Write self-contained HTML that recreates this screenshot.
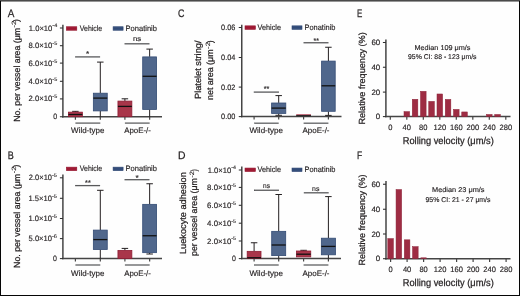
<!DOCTYPE html>
<html><head><meta charset="utf-8"><style>
html,body{margin:0;padding:0;background:#fff;}
svg{display:block;will-change:transform;}
text{font-family:"Liberation Sans", sans-serif;stroke:#231f20;text-rendering:geometricPrecision;}
</style></head><body>
<svg width="520" height="296" viewBox="0 0 520 296">
<rect x="0" y="0" width="520" height="296" fill="#fefefe"/>
<text x="7.75" y="16.90" font-size="10.9" text-anchor="start" fill="#231f20" textLength="6.60" lengthAdjust="spacingAndGlyphs" stroke-width="0.25">A</text>
<text x="7.80" y="159.10" font-size="10.9" text-anchor="start" fill="#231f20" textLength="6.00" lengthAdjust="spacingAndGlyphs" stroke-width="0.25">B</text>
<text x="178.05" y="17.20" font-size="10.9" text-anchor="start" fill="#231f20" textLength="6.40" lengthAdjust="spacingAndGlyphs" stroke-width="0.25">C</text>
<text x="178.05" y="159.10" font-size="10.9" text-anchor="start" fill="#231f20" textLength="7.50" lengthAdjust="spacingAndGlyphs" stroke-width="0.25">D</text>
<text x="356.90" y="17.40" font-size="10.9" text-anchor="start" fill="#231f20" textLength="5.30" lengthAdjust="spacingAndGlyphs" stroke-width="0.25">E</text>
<text x="356.90" y="159.10" font-size="10.9" text-anchor="start" fill="#231f20" textLength="5.20" lengthAdjust="spacingAndGlyphs" stroke-width="0.25">F</text>
<line x1="62.9" y1="24.8" x2="62.9" y2="117.45" stroke="#454545" stroke-width="1.5"/>
<line x1="62.15" y1="116.75" x2="162.0" y2="116.75" stroke="#454545" stroke-width="1.5"/>
<line x1="59.9" y1="28.0" x2="62.9" y2="28.0" stroke="#2e2e2e" stroke-width="1.05"/>
<line x1="59.9" y1="45.7" x2="62.9" y2="45.7" stroke="#2e2e2e" stroke-width="1.05"/>
<line x1="59.9" y1="63.1" x2="62.9" y2="63.1" stroke="#2e2e2e" stroke-width="1.05"/>
<line x1="59.9" y1="81.3" x2="62.9" y2="81.3" stroke="#2e2e2e" stroke-width="1.05"/>
<line x1="59.9" y1="98.9" x2="62.9" y2="98.9" stroke="#2e2e2e" stroke-width="1.05"/>
<line x1="59.9" y1="116.75" x2="62.9" y2="116.75" stroke="#2e2e2e" stroke-width="1.05"/>
<line x1="75.4" y1="116.75" x2="75.4" y2="119.75" stroke="#454545" stroke-width="1.2"/>
<line x1="100.3" y1="116.75" x2="100.3" y2="119.75" stroke="#454545" stroke-width="1.2"/>
<line x1="124.9" y1="116.75" x2="124.9" y2="119.75" stroke="#454545" stroke-width="1.2"/>
<line x1="149.65" y1="116.75" x2="149.65" y2="119.75" stroke="#454545" stroke-width="1.2"/>
<text x="28.85" y="30.50" font-size="7.8" text-anchor="start" fill="#231f20" textLength="23.45" lengthAdjust="spacingAndGlyphs" stroke-width="0.15">1.0×10</text>
<text x="52.30" y="27.40" font-size="5.2" text-anchor="start" fill="#231f20" textLength="4.90" lengthAdjust="spacingAndGlyphs" stroke-width="0.1">-4</text>
<text x="28.50" y="48.20" font-size="7.8" text-anchor="start" fill="#231f20" textLength="23.80" lengthAdjust="spacingAndGlyphs" stroke-width="0.15">8.0×10</text>
<text x="52.30" y="45.10" font-size="5.2" text-anchor="start" fill="#231f20" textLength="4.90" lengthAdjust="spacingAndGlyphs" stroke-width="0.1">-5</text>
<text x="28.50" y="65.60" font-size="7.8" text-anchor="start" fill="#231f20" textLength="23.80" lengthAdjust="spacingAndGlyphs" stroke-width="0.15">6.0×10</text>
<text x="52.30" y="62.50" font-size="5.2" text-anchor="start" fill="#231f20" textLength="4.90" lengthAdjust="spacingAndGlyphs" stroke-width="0.1">-5</text>
<text x="28.50" y="83.80" font-size="7.8" text-anchor="start" fill="#231f20" textLength="23.80" lengthAdjust="spacingAndGlyphs" stroke-width="0.15">4.0×10</text>
<text x="52.30" y="80.70" font-size="5.2" text-anchor="start" fill="#231f20" textLength="4.90" lengthAdjust="spacingAndGlyphs" stroke-width="0.1">-5</text>
<text x="28.50" y="101.40" font-size="7.8" text-anchor="start" fill="#231f20" textLength="23.80" lengthAdjust="spacingAndGlyphs" stroke-width="0.15">2.0×10</text>
<text x="52.30" y="98.30" font-size="5.2" text-anchor="start" fill="#231f20" textLength="4.90" lengthAdjust="spacingAndGlyphs" stroke-width="0.1">-5</text>
<text x="53.30" y="119.25" font-size="7.8" text-anchor="start" fill="#231f20" textLength="3.90" lengthAdjust="spacingAndGlyphs" stroke-width="0.15">0</text>
<rect x="66.40" y="26.75" width="10.40" height="3.50" fill="#a31d37" stroke="#94142e" stroke-width="0.6"/>
<line x1="66.7" y1="28.5" x2="76.50000000000001" y2="28.5" stroke="#94142e" stroke-width="0.5"/>
<rect x="113.10" y="26.75" width="10.00" height="3.50" fill="#38527f" stroke="#2c4470" stroke-width="0.6"/>
<line x1="113.39999999999999" y1="28.5" x2="122.8" y2="28.5" stroke="#2c4470" stroke-width="0.5"/>
<text x="79.75" y="30.80" font-size="7.85" text-anchor="start" fill="#231f20" textLength="22.50" lengthAdjust="spacingAndGlyphs" stroke-width="0.15">Vehicle</text>
<text x="125.60" y="30.80" font-size="7.85" text-anchor="start" fill="#231f20" textLength="31.40" lengthAdjust="spacingAndGlyphs" stroke-width="0.15">Ponatinib</text>
<line x1="75.4" y1="111.35" x2="75.4" y2="112.05" stroke="#231f20" stroke-width="1.0"/>
<line x1="72.15" y1="111.35" x2="78.65" y2="111.35" stroke="#231f20" stroke-width="1.0"/>
<rect x="68.45" y="112.15" width="13.90" height="4.50" fill="#a9364a" stroke="#8e1c33" stroke-width="0.8"/>
<line x1="68.45" y1="114.5" x2="82.35000000000001" y2="114.5" stroke="#111" stroke-width="1.3"/>
<line x1="100.3" y1="62.1" x2="100.3" y2="93.1" stroke="#231f20" stroke-width="1.0"/>
<line x1="97.05" y1="62.1" x2="103.55" y2="62.1" stroke="#231f20" stroke-width="1.0"/>
<line x1="100.3" y1="111.0" x2="100.3" y2="116.75" stroke="#231f20" stroke-width="1.0"/>
<rect x="93.35" y="93.20" width="13.90" height="17.70" fill="#50678c" stroke="#334b74" stroke-width="0.8"/>
<line x1="93.35" y1="98.1" x2="107.25" y2="98.1" stroke="#111" stroke-width="1.3"/>
<line x1="124.9" y1="98.8" x2="124.9" y2="101.0" stroke="#231f20" stroke-width="1.0"/>
<line x1="121.65" y1="98.8" x2="128.15" y2="98.8" stroke="#231f20" stroke-width="1.0"/>
<rect x="117.95" y="101.10" width="13.90" height="15.55" fill="#a9364a" stroke="#8e1c33" stroke-width="0.8"/>
<line x1="117.95" y1="106.4" x2="131.85" y2="106.4" stroke="#111" stroke-width="1.3"/>
<line x1="149.65" y1="49.1" x2="149.65" y2="56.8" stroke="#231f20" stroke-width="1.0"/>
<line x1="146.4" y1="49.1" x2="152.9" y2="49.1" stroke="#231f20" stroke-width="1.0"/>
<line x1="149.65" y1="109.5" x2="149.65" y2="116.75" stroke="#231f20" stroke-width="1.0"/>
<rect x="142.70" y="56.90" width="13.90" height="52.50" fill="#50678c" stroke="#334b74" stroke-width="0.8"/>
<line x1="142.70000000000002" y1="76.3" x2="156.6" y2="76.3" stroke="#111" stroke-width="1.3"/>
<line x1="75.1" y1="56.9" x2="100.1" y2="56.9" stroke="#58595b" stroke-width="1.3"/>
<text x="86.00" y="55.85" font-size="7.0" text-anchor="start" fill="#231f20" textLength="3.20" lengthAdjust="spacingAndGlyphs" stroke-width="0.15">*</text>
<line x1="124.5" y1="43.8" x2="149.5" y2="43.8" stroke="#58595b" stroke-width="1.3"/>
<text x="133.00" y="41.20" font-size="7.0" text-anchor="start" fill="#231f20" textLength="8.20" lengthAdjust="spacingAndGlyphs" stroke-width="0.15">ns</text>
<line x1="75.4" y1="123.1" x2="100.3" y2="123.1" stroke="#5f6062" stroke-width="1.3"/>
<line x1="124.9" y1="123.1" x2="149.65" y2="123.1" stroke="#5f6062" stroke-width="1.3"/>
<text x="71.10" y="133.20" font-size="7.85" text-anchor="start" fill="#231f20" textLength="33.30" lengthAdjust="spacingAndGlyphs" stroke-width="0.15">Wild-type</text>
<text x="124.20" y="133.20" font-size="7.85" text-anchor="start" fill="#231f20" textLength="26.70" lengthAdjust="spacingAndGlyphs" stroke-width="0.15">ApoE-/-</text>
<text x="19.60" y="121.80" font-size="8.9" text-anchor="start" fill="#231f20" textLength="93.90" lengthAdjust="spacingAndGlyphs" transform="rotate(-90 19.60 121.80)" stroke-width="0.25">No. per vessel area (μm</text>
<text x="16.30" y="27.60" font-size="6.2" text-anchor="start" fill="#231f20" textLength="7.00" lengthAdjust="spacingAndGlyphs" transform="rotate(-90 16.30 27.60)" stroke-width="0.1">-2</text>
<text x="19.30" y="21.90" font-size="8.9" text-anchor="start" fill="#231f20" textLength="2.80" lengthAdjust="spacingAndGlyphs" transform="rotate(-90 19.30 21.90)" stroke-width="0.25">)</text>
<line x1="62.9" y1="174.6" x2="62.9" y2="259.3" stroke="#454545" stroke-width="1.5"/>
<line x1="62.15" y1="258.6" x2="162.0" y2="258.6" stroke="#454545" stroke-width="1.5"/>
<line x1="59.9" y1="177.8" x2="62.9" y2="177.8" stroke="#2e2e2e" stroke-width="1.05"/>
<line x1="59.9" y1="198.3" x2="62.9" y2="198.3" stroke="#2e2e2e" stroke-width="1.05"/>
<line x1="59.9" y1="218.5" x2="62.9" y2="218.5" stroke="#2e2e2e" stroke-width="1.05"/>
<line x1="59.9" y1="238.6" x2="62.9" y2="238.6" stroke="#2e2e2e" stroke-width="1.05"/>
<line x1="59.9" y1="258.6" x2="62.9" y2="258.6" stroke="#2e2e2e" stroke-width="1.05"/>
<line x1="75.4" y1="258.6" x2="75.4" y2="261.6" stroke="#454545" stroke-width="1.2"/>
<line x1="100.3" y1="258.6" x2="100.3" y2="261.6" stroke="#454545" stroke-width="1.2"/>
<line x1="124.9" y1="258.6" x2="124.9" y2="261.6" stroke="#454545" stroke-width="1.2"/>
<line x1="149.65" y1="258.6" x2="149.65" y2="261.6" stroke="#454545" stroke-width="1.2"/>
<text x="28.85" y="180.30" font-size="7.8" text-anchor="start" fill="#231f20" textLength="23.15" lengthAdjust="spacingAndGlyphs" stroke-width="0.15">2.0×10</text>
<text x="52.00" y="177.20" font-size="5.2" text-anchor="start" fill="#231f20" textLength="5.00" lengthAdjust="spacingAndGlyphs" stroke-width="0.1">-5</text>
<text x="28.50" y="200.80" font-size="7.8" text-anchor="start" fill="#231f20" textLength="23.50" lengthAdjust="spacingAndGlyphs" stroke-width="0.15">1.5×10</text>
<text x="52.00" y="197.70" font-size="5.2" text-anchor="start" fill="#231f20" textLength="5.00" lengthAdjust="spacingAndGlyphs" stroke-width="0.1">-5</text>
<text x="28.50" y="221.00" font-size="7.8" text-anchor="start" fill="#231f20" textLength="23.50" lengthAdjust="spacingAndGlyphs" stroke-width="0.15">1.0×10</text>
<text x="52.00" y="217.90" font-size="5.2" text-anchor="start" fill="#231f20" textLength="5.00" lengthAdjust="spacingAndGlyphs" stroke-width="0.1">-5</text>
<text x="28.55" y="241.10" font-size="7.8" text-anchor="start" fill="#231f20" textLength="23.45" lengthAdjust="spacingAndGlyphs" stroke-width="0.15">5.0×10</text>
<text x="52.00" y="238.00" font-size="5.2" text-anchor="start" fill="#231f20" textLength="5.00" lengthAdjust="spacingAndGlyphs" stroke-width="0.1">-6</text>
<text x="53.10" y="261.10" font-size="7.8" text-anchor="start" fill="#231f20" textLength="3.90" lengthAdjust="spacingAndGlyphs" stroke-width="0.15">0</text>
<rect x="66.40" y="167.15" width="10.40" height="3.50" fill="#a31d37" stroke="#94142e" stroke-width="0.6"/>
<line x1="66.7" y1="168.9" x2="76.50000000000001" y2="168.9" stroke="#94142e" stroke-width="0.5"/>
<rect x="113.10" y="167.15" width="10.00" height="3.50" fill="#38527f" stroke="#2c4470" stroke-width="0.6"/>
<line x1="113.39999999999999" y1="168.9" x2="122.8" y2="168.9" stroke="#2c4470" stroke-width="0.5"/>
<text x="79.75" y="170.80" font-size="7.85" text-anchor="start" fill="#231f20" textLength="22.50" lengthAdjust="spacingAndGlyphs" stroke-width="0.15">Vehicle</text>
<text x="125.60" y="170.80" font-size="7.85" text-anchor="start" fill="#231f20" textLength="31.40" lengthAdjust="spacingAndGlyphs" stroke-width="0.15">Ponatinib</text>
<line x1="100.3" y1="190.3" x2="100.3" y2="230.0" stroke="#231f20" stroke-width="1.0"/>
<line x1="97.05" y1="190.3" x2="103.55" y2="190.3" stroke="#231f20" stroke-width="1.0"/>
<line x1="100.3" y1="249.6" x2="100.3" y2="258.6" stroke="#231f20" stroke-width="1.0"/>
<rect x="93.35" y="230.10" width="13.90" height="19.40" fill="#50678c" stroke="#334b74" stroke-width="0.8"/>
<line x1="93.35" y1="239.6" x2="107.25" y2="239.6" stroke="#111" stroke-width="1.3"/>
<line x1="124.9" y1="248.4" x2="124.9" y2="250.4" stroke="#231f20" stroke-width="1.0"/>
<line x1="121.65" y1="248.4" x2="128.15" y2="248.4" stroke="#231f20" stroke-width="1.0"/>
<rect x="117.95" y="250.50" width="13.90" height="8.00" fill="#a9364a" stroke="#8e1c33" stroke-width="0.8"/>
<line x1="149.65" y1="183.75" x2="149.65" y2="204.25" stroke="#231f20" stroke-width="1.0"/>
<line x1="146.4" y1="183.75" x2="152.9" y2="183.75" stroke="#231f20" stroke-width="1.0"/>
<line x1="149.65" y1="252.75" x2="149.65" y2="254.0" stroke="#231f20" stroke-width="1.0"/>
<line x1="146.4" y1="254.0" x2="152.9" y2="254.0" stroke="#231f20" stroke-width="1.0"/>
<rect x="142.70" y="204.35" width="13.90" height="48.30" fill="#50678c" stroke="#334b74" stroke-width="0.8"/>
<line x1="142.70000000000002" y1="235.75" x2="156.6" y2="235.75" stroke="#111" stroke-width="1.3"/>
<line x1="75.1" y1="185.6" x2="100.1" y2="185.6" stroke="#58595b" stroke-width="1.3"/>
<text x="85.10" y="184.50" font-size="7.0" text-anchor="start" fill="#231f20" textLength="5.60" lengthAdjust="spacingAndGlyphs" stroke-width="0.15">**</text>
<line x1="124.5" y1="179.7" x2="149.5" y2="179.7" stroke="#58595b" stroke-width="1.3"/>
<text x="135.60" y="179.60" font-size="7.0" text-anchor="start" fill="#231f20" textLength="3.20" lengthAdjust="spacingAndGlyphs" stroke-width="0.15">*</text>
<line x1="75.4" y1="265.0" x2="100.3" y2="265.0" stroke="#5f6062" stroke-width="1.3"/>
<line x1="124.9" y1="265.0" x2="149.65" y2="265.0" stroke="#5f6062" stroke-width="1.3"/>
<text x="71.10" y="275.60" font-size="7.85" text-anchor="start" fill="#231f20" textLength="33.30" lengthAdjust="spacingAndGlyphs" stroke-width="0.15">Wild-type</text>
<text x="124.20" y="275.60" font-size="7.85" text-anchor="start" fill="#231f20" textLength="26.70" lengthAdjust="spacingAndGlyphs" stroke-width="0.15">ApoE-/-</text>
<text x="19.60" y="267.90" font-size="8.9" text-anchor="start" fill="#231f20" textLength="94.00" lengthAdjust="spacingAndGlyphs" transform="rotate(-90 19.60 267.90)" stroke-width="0.25">No. per vessel area (μm</text>
<text x="16.20" y="173.30" font-size="6.2" text-anchor="start" fill="#231f20" textLength="6.80" lengthAdjust="spacingAndGlyphs" transform="rotate(-90 16.20 173.30)" stroke-width="0.1">-2</text>
<text x="19.30" y="167.40" font-size="8.9" text-anchor="start" fill="#231f20" textLength="2.80" lengthAdjust="spacingAndGlyphs" transform="rotate(-90 19.30 167.40)" stroke-width="0.25">)</text>
<line x1="241.75" y1="24.8" x2="241.75" y2="117.3" stroke="#454545" stroke-width="1.5"/>
<line x1="241.0" y1="116.6" x2="341.5" y2="116.6" stroke="#454545" stroke-width="1.5"/>
<line x1="238.75" y1="27.5" x2="241.75" y2="27.5" stroke="#2e2e2e" stroke-width="1.05"/>
<line x1="238.75" y1="57.5" x2="241.75" y2="57.5" stroke="#2e2e2e" stroke-width="1.05"/>
<line x1="238.75" y1="87.1" x2="241.75" y2="87.1" stroke="#2e2e2e" stroke-width="1.05"/>
<line x1="238.75" y1="116.6" x2="241.75" y2="116.6" stroke="#2e2e2e" stroke-width="1.05"/>
<line x1="254.1" y1="116.6" x2="254.1" y2="119.6" stroke="#454545" stroke-width="1.2"/>
<line x1="278.7" y1="116.6" x2="278.7" y2="119.6" stroke="#454545" stroke-width="1.2"/>
<line x1="303.6" y1="116.6" x2="303.6" y2="119.6" stroke="#454545" stroke-width="1.2"/>
<line x1="328.4" y1="116.6" x2="328.4" y2="119.6" stroke="#454545" stroke-width="1.2"/>
<text x="221.10" y="30.10" font-size="7.8" text-anchor="start" fill="#231f20" textLength="14.30" lengthAdjust="spacingAndGlyphs" stroke-width="0.15">0.06</text>
<text x="221.10" y="60.10" font-size="7.8" text-anchor="start" fill="#231f20" textLength="14.30" lengthAdjust="spacingAndGlyphs" stroke-width="0.15">0.04</text>
<text x="221.10" y="89.70" font-size="7.8" text-anchor="start" fill="#231f20" textLength="14.30" lengthAdjust="spacingAndGlyphs" stroke-width="0.15">0.02</text>
<text x="221.10" y="119.20" font-size="7.8" text-anchor="start" fill="#231f20" textLength="14.30" lengthAdjust="spacingAndGlyphs" stroke-width="0.15">0.00</text>
<rect x="245.00" y="25.85" width="10.40" height="3.50" fill="#a31d37" stroke="#94142e" stroke-width="0.6"/>
<line x1="245.3" y1="27.6" x2="255.1" y2="27.6" stroke="#94142e" stroke-width="0.5"/>
<rect x="292.00" y="25.85" width="10.00" height="3.50" fill="#38527f" stroke="#2c4470" stroke-width="0.6"/>
<line x1="292.3" y1="27.6" x2="301.7" y2="27.6" stroke="#2c4470" stroke-width="0.5"/>
<text x="257.50" y="29.60" font-size="7.85" text-anchor="start" fill="#231f20" textLength="23.50" lengthAdjust="spacingAndGlyphs" stroke-width="0.15">Vehicle</text>
<text x="304.50" y="29.60" font-size="7.85" text-anchor="start" fill="#231f20" textLength="31.00" lengthAdjust="spacingAndGlyphs" stroke-width="0.15">Ponatinib</text>
<line x1="278.7" y1="95.6" x2="278.7" y2="102.9" stroke="#231f20" stroke-width="1.0"/>
<line x1="275.45" y1="95.6" x2="281.95" y2="95.6" stroke="#231f20" stroke-width="1.0"/>
<line x1="278.7" y1="113.5" x2="278.7" y2="115.3" stroke="#231f20" stroke-width="1.0"/>
<line x1="275.45" y1="115.3" x2="281.95" y2="115.3" stroke="#231f20" stroke-width="1.0"/>
<rect x="271.60" y="103.00" width="14.20" height="10.40" fill="#50678c" stroke="#334b74" stroke-width="0.8"/>
<line x1="271.59999999999997" y1="108.1" x2="285.8" y2="108.1" stroke="#111" stroke-width="1.3"/>
<rect x="296.20" y="114.30" width="14.80" height="1.20" fill="#a9364a"/>
<line x1="296.2" y1="115.7" x2="311.0" y2="115.7" stroke="#111" stroke-width="1.0"/>
<line x1="328.4" y1="47.25" x2="328.4" y2="61.0" stroke="#231f20" stroke-width="1.0"/>
<line x1="325.15" y1="47.25" x2="331.65" y2="47.25" stroke="#231f20" stroke-width="1.0"/>
<line x1="328.4" y1="111.4" x2="328.4" y2="115.4" stroke="#231f20" stroke-width="1.0"/>
<line x1="325.15" y1="115.4" x2="331.65" y2="115.4" stroke="#231f20" stroke-width="1.0"/>
<rect x="321.60" y="61.10" width="13.60" height="50.20" fill="#50678c" stroke="#334b74" stroke-width="0.8"/>
<line x1="321.59999999999997" y1="85.8" x2="335.2" y2="85.8" stroke="#111" stroke-width="1.3"/>
<line x1="253.75" y1="92.1" x2="279.0" y2="92.1" stroke="#58595b" stroke-width="1.3"/>
<text x="263.75" y="91.40" font-size="7.0" text-anchor="start" fill="#231f20" textLength="5.60" lengthAdjust="spacingAndGlyphs" stroke-width="0.15">**</text>
<line x1="303.5" y1="42.75" x2="328.5" y2="42.75" stroke="#58595b" stroke-width="1.3"/>
<text x="313.50" y="42.70" font-size="7.0" text-anchor="start" fill="#231f20" textLength="5.30" lengthAdjust="spacingAndGlyphs" stroke-width="0.15">**</text>
<line x1="254.1" y1="123.2" x2="278.7" y2="123.2" stroke="#5f6062" stroke-width="1.3"/>
<line x1="303.6" y1="123.2" x2="328.4" y2="123.2" stroke="#5f6062" stroke-width="1.3"/>
<text x="249.50" y="133.20" font-size="7.85" text-anchor="start" fill="#231f20" textLength="33.50" lengthAdjust="spacingAndGlyphs" stroke-width="0.15">Wild-type</text>
<text x="302.50" y="133.20" font-size="7.85" text-anchor="start" fill="#231f20" textLength="27.00" lengthAdjust="spacingAndGlyphs" stroke-width="0.15">ApoE-/-</text>
<text x="200.80" y="99.00" font-size="8.9" text-anchor="start" fill="#231f20" textLength="58.50" lengthAdjust="spacingAndGlyphs" transform="rotate(-90 200.80 99.00)" stroke-width="0.25">Platelet string/</text>
<text x="212.90" y="100.00" font-size="8.9" text-anchor="start" fill="#231f20" textLength="50.60" lengthAdjust="spacingAndGlyphs" transform="rotate(-90 212.90 100.00)" stroke-width="0.25">net area (μm</text>
<text x="210.00" y="48.90" font-size="6.2" text-anchor="start" fill="#231f20" textLength="6.80" lengthAdjust="spacingAndGlyphs" transform="rotate(-90 210.00 48.90)" stroke-width="0.1">-2</text>
<text x="212.80" y="43.00" font-size="8.9" text-anchor="start" fill="#231f20" textLength="2.50" lengthAdjust="spacingAndGlyphs" transform="rotate(-90 212.80 43.00)" stroke-width="0.25">)</text>
<line x1="241.8" y1="166.5" x2="241.8" y2="259.3" stroke="#454545" stroke-width="1.5"/>
<line x1="241.05" y1="258.6" x2="341.0" y2="258.6" stroke="#454545" stroke-width="1.5"/>
<line x1="238.8" y1="170.0" x2="241.8" y2="170.0" stroke="#2e2e2e" stroke-width="1.05"/>
<line x1="238.8" y1="187.4" x2="241.8" y2="187.4" stroke="#2e2e2e" stroke-width="1.05"/>
<line x1="238.8" y1="205.3" x2="241.8" y2="205.3" stroke="#2e2e2e" stroke-width="1.05"/>
<line x1="238.8" y1="223.2" x2="241.8" y2="223.2" stroke="#2e2e2e" stroke-width="1.05"/>
<line x1="238.8" y1="241.0" x2="241.8" y2="241.0" stroke="#2e2e2e" stroke-width="1.05"/>
<line x1="238.8" y1="258.6" x2="241.8" y2="258.6" stroke="#2e2e2e" stroke-width="1.05"/>
<line x1="254.1" y1="258.6" x2="254.1" y2="261.6" stroke="#454545" stroke-width="1.2"/>
<line x1="278.7" y1="258.6" x2="278.7" y2="261.6" stroke="#454545" stroke-width="1.2"/>
<line x1="303.6" y1="258.6" x2="303.6" y2="261.6" stroke="#454545" stroke-width="1.2"/>
<line x1="328.4" y1="258.6" x2="328.4" y2="261.6" stroke="#454545" stroke-width="1.2"/>
<text x="207.70" y="172.50" font-size="7.8" text-anchor="start" fill="#231f20" textLength="23.60" lengthAdjust="spacingAndGlyphs" stroke-width="0.15">1.0×10</text>
<text x="231.30" y="169.40" font-size="5.2" text-anchor="start" fill="#231f20" textLength="4.70" lengthAdjust="spacingAndGlyphs" stroke-width="0.1">-4</text>
<text x="207.10" y="189.90" font-size="7.8" text-anchor="start" fill="#231f20" textLength="24.20" lengthAdjust="spacingAndGlyphs" stroke-width="0.15">8.0×10</text>
<text x="231.30" y="186.80" font-size="5.2" text-anchor="start" fill="#231f20" textLength="4.70" lengthAdjust="spacingAndGlyphs" stroke-width="0.1">-5</text>
<text x="207.10" y="207.80" font-size="7.8" text-anchor="start" fill="#231f20" textLength="24.20" lengthAdjust="spacingAndGlyphs" stroke-width="0.15">6.0×10</text>
<text x="231.30" y="204.70" font-size="5.2" text-anchor="start" fill="#231f20" textLength="4.70" lengthAdjust="spacingAndGlyphs" stroke-width="0.1">-5</text>
<text x="207.10" y="225.70" font-size="7.8" text-anchor="start" fill="#231f20" textLength="24.20" lengthAdjust="spacingAndGlyphs" stroke-width="0.15">4.0×10</text>
<text x="231.30" y="222.60" font-size="5.2" text-anchor="start" fill="#231f20" textLength="4.70" lengthAdjust="spacingAndGlyphs" stroke-width="0.1">-5</text>
<text x="207.10" y="243.50" font-size="7.8" text-anchor="start" fill="#231f20" textLength="24.20" lengthAdjust="spacingAndGlyphs" stroke-width="0.15">2.0×10</text>
<text x="231.30" y="240.40" font-size="5.2" text-anchor="start" fill="#231f20" textLength="4.70" lengthAdjust="spacingAndGlyphs" stroke-width="0.1">-5</text>
<text x="232.10" y="261.10" font-size="7.8" text-anchor="start" fill="#231f20" textLength="3.90" lengthAdjust="spacingAndGlyphs" stroke-width="0.15">0</text>
<rect x="245.00" y="168.05" width="10.40" height="3.50" fill="#a31d37" stroke="#94142e" stroke-width="0.6"/>
<line x1="245.3" y1="169.8" x2="255.1" y2="169.8" stroke="#94142e" stroke-width="0.5"/>
<rect x="292.00" y="168.05" width="10.00" height="3.50" fill="#38527f" stroke="#2c4470" stroke-width="0.6"/>
<line x1="292.3" y1="169.8" x2="301.7" y2="169.8" stroke="#2c4470" stroke-width="0.5"/>
<text x="257.50" y="171.50" font-size="7.85" text-anchor="start" fill="#231f20" textLength="23.50" lengthAdjust="spacingAndGlyphs" stroke-width="0.15">Vehicle</text>
<text x="304.50" y="171.50" font-size="7.85" text-anchor="start" fill="#231f20" textLength="31.00" lengthAdjust="spacingAndGlyphs" stroke-width="0.15">Ponatinib</text>
<line x1="254.1" y1="242.75" x2="254.1" y2="251.25" stroke="#231f20" stroke-width="1.0"/>
<line x1="250.85" y1="242.75" x2="257.35" y2="242.75" stroke="#231f20" stroke-width="1.0"/>
<rect x="247.20" y="251.35" width="13.80" height="7.05" fill="#a9364a" stroke="#8e1c33" stroke-width="0.8"/>
<line x1="247.2" y1="257.75" x2="261.0" y2="257.75" stroke="#111" stroke-width="1.3"/>
<line x1="278.7" y1="194.5" x2="278.7" y2="231.25" stroke="#231f20" stroke-width="1.0"/>
<line x1="275.45" y1="194.5" x2="281.95" y2="194.5" stroke="#231f20" stroke-width="1.0"/>
<line x1="278.7" y1="255.7" x2="278.7" y2="258.6" stroke="#231f20" stroke-width="1.0"/>
<rect x="271.70" y="231.35" width="14.00" height="24.25" fill="#50678c" stroke="#334b74" stroke-width="0.8"/>
<line x1="271.7" y1="245.0" x2="285.7" y2="245.0" stroke="#111" stroke-width="1.3"/>
<line x1="303.6" y1="250.3" x2="303.6" y2="250.9" stroke="#231f20" stroke-width="1.0"/>
<line x1="300.35" y1="250.3" x2="306.85" y2="250.3" stroke="#231f20" stroke-width="1.0"/>
<rect x="296.45" y="251.00" width="14.30" height="5.90" fill="#a9364a" stroke="#8e1c33" stroke-width="0.8"/>
<line x1="296.45000000000005" y1="254.2" x2="310.75" y2="254.2" stroke="#111" stroke-width="1.3"/>
<line x1="328.4" y1="196.6" x2="328.4" y2="238.1" stroke="#231f20" stroke-width="1.0"/>
<line x1="325.15" y1="196.6" x2="331.65" y2="196.6" stroke="#231f20" stroke-width="1.0"/>
<line x1="328.4" y1="254.9" x2="328.4" y2="258.6" stroke="#231f20" stroke-width="1.0"/>
<rect x="321.35" y="238.20" width="14.10" height="16.60" fill="#50678c" stroke="#334b74" stroke-width="0.8"/>
<line x1="321.34999999999997" y1="246.4" x2="335.45" y2="246.4" stroke="#111" stroke-width="1.3"/>
<line x1="254.0" y1="190.25" x2="279.0" y2="190.25" stroke="#58595b" stroke-width="1.3"/>
<text x="263.10" y="187.80" font-size="7.0" text-anchor="start" fill="#231f20" textLength="6.90" lengthAdjust="spacingAndGlyphs" stroke-width="0.15">ns</text>
<line x1="303.8" y1="192.8" x2="328.7" y2="192.8" stroke="#58595b" stroke-width="1.3"/>
<text x="312.10" y="190.60" font-size="7.0" text-anchor="start" fill="#231f20" textLength="7.30" lengthAdjust="spacingAndGlyphs" stroke-width="0.15">ns</text>
<line x1="254.1" y1="265.0" x2="278.7" y2="265.0" stroke="#5f6062" stroke-width="1.3"/>
<line x1="303.6" y1="265.0" x2="328.4" y2="265.0" stroke="#5f6062" stroke-width="1.3"/>
<text x="249.50" y="275.60" font-size="7.85" text-anchor="start" fill="#231f20" textLength="33.50" lengthAdjust="spacingAndGlyphs" stroke-width="0.15">Wild-type</text>
<text x="302.50" y="275.60" font-size="7.85" text-anchor="start" fill="#231f20" textLength="27.00" lengthAdjust="spacingAndGlyphs" stroke-width="0.15">ApoE-/-</text>
<text x="186.00" y="254.00" font-size="8.9" text-anchor="start" fill="#231f20" textLength="81.80" lengthAdjust="spacingAndGlyphs" transform="rotate(-90 186.00 254.00)" stroke-width="0.25">Luekocyte adhesion</text>
<text x="197.30" y="255.90" font-size="8.9" text-anchor="start" fill="#231f20" textLength="77.70" lengthAdjust="spacingAndGlyphs" transform="rotate(-90 197.30 255.90)" stroke-width="0.25">per vessel area (μm</text>
<text x="194.40" y="177.60" font-size="6.2" text-anchor="start" fill="#231f20" textLength="6.40" lengthAdjust="spacingAndGlyphs" transform="rotate(-90 194.40 177.60)" stroke-width="0.1">-2</text>
<text x="197.30" y="171.60" font-size="8.9" text-anchor="start" fill="#231f20" textLength="2.30" lengthAdjust="spacingAndGlyphs" transform="rotate(-90 197.30 171.60)" stroke-width="0.25">)</text>
<line x1="385.9" y1="39.4" x2="385.9" y2="117.3" stroke="#454545" stroke-width="1.5"/>
<line x1="385.15" y1="116.6" x2="510.5" y2="116.6" stroke="#454545" stroke-width="1.5"/>
<line x1="382.9" y1="42.5" x2="385.9" y2="42.5" stroke="#2e2e2e" stroke-width="1.05"/>
<line x1="382.9" y1="67.25" x2="385.9" y2="67.25" stroke="#2e2e2e" stroke-width="1.05"/>
<line x1="382.9" y1="92.1" x2="385.9" y2="92.1" stroke="#2e2e2e" stroke-width="1.05"/>
<line x1="382.9" y1="116.6" x2="385.9" y2="116.6" stroke="#2e2e2e" stroke-width="1.05"/>
<line x1="390.3" y1="116.6" x2="390.3" y2="119.8" stroke="#454545" stroke-width="1.2"/>
<line x1="406.8" y1="116.6" x2="406.8" y2="119.8" stroke="#454545" stroke-width="1.2"/>
<line x1="423.3" y1="116.6" x2="423.3" y2="119.8" stroke="#454545" stroke-width="1.2"/>
<line x1="439.8" y1="116.6" x2="439.8" y2="119.8" stroke="#454545" stroke-width="1.2"/>
<line x1="456.3" y1="116.6" x2="456.3" y2="119.8" stroke="#454545" stroke-width="1.2"/>
<line x1="472.8" y1="116.6" x2="472.8" y2="119.8" stroke="#454545" stroke-width="1.2"/>
<line x1="489.3" y1="116.6" x2="489.3" y2="119.8" stroke="#454545" stroke-width="1.2"/>
<line x1="505.8" y1="116.6" x2="505.8" y2="119.8" stroke="#454545" stroke-width="1.2"/>
<text x="371.40" y="45.10" font-size="7.8" text-anchor="start" fill="#231f20" textLength="8.80" lengthAdjust="spacingAndGlyphs" stroke-width="0.15">60</text>
<text x="371.40" y="69.85" font-size="7.8" text-anchor="start" fill="#231f20" textLength="8.80" lengthAdjust="spacingAndGlyphs" stroke-width="0.15">40</text>
<text x="371.40" y="94.70" font-size="7.8" text-anchor="start" fill="#231f20" textLength="8.80" lengthAdjust="spacingAndGlyphs" stroke-width="0.15">20</text>
<text x="375.80" y="119.20" font-size="7.8" text-anchor="start" fill="#231f20" textLength="4.40" lengthAdjust="spacingAndGlyphs" stroke-width="0.15">0</text>
<text x="388.20" y="129.60" font-size="7.8" text-anchor="start" fill="#231f20" textLength="4.20" lengthAdjust="spacingAndGlyphs" stroke-width="0.15">0</text>
<text x="402.60" y="129.60" font-size="7.8" text-anchor="start" fill="#231f20" textLength="8.40" lengthAdjust="spacingAndGlyphs" stroke-width="0.15">40</text>
<text x="419.10" y="129.60" font-size="7.8" text-anchor="start" fill="#231f20" textLength="8.40" lengthAdjust="spacingAndGlyphs" stroke-width="0.15">80</text>
<text x="433.50" y="129.60" font-size="7.8" text-anchor="start" fill="#231f20" textLength="12.60" lengthAdjust="spacingAndGlyphs" stroke-width="0.15">120</text>
<text x="450.00" y="129.60" font-size="7.8" text-anchor="start" fill="#231f20" textLength="12.60" lengthAdjust="spacingAndGlyphs" stroke-width="0.15">160</text>
<text x="466.50" y="129.60" font-size="7.8" text-anchor="start" fill="#231f20" textLength="12.60" lengthAdjust="spacingAndGlyphs" stroke-width="0.15">200</text>
<text x="483.00" y="129.60" font-size="7.8" text-anchor="start" fill="#231f20" textLength="12.60" lengthAdjust="spacingAndGlyphs" stroke-width="0.15">240</text>
<text x="499.50" y="129.60" font-size="7.8" text-anchor="start" fill="#231f20" textLength="12.60" lengthAdjust="spacingAndGlyphs" stroke-width="0.15">280</text>
<rect x="404.00" y="111.64" width="5.60" height="4.96" fill="#9e2c43" stroke="#8c2338" stroke-width="0.5"/>
<rect x="412.25" y="99.29" width="5.60" height="17.31" fill="#9e2c43" stroke="#8c2338" stroke-width="0.5"/>
<rect x="420.50" y="91.32" width="5.60" height="25.28" fill="#9e2c43" stroke="#8c2338" stroke-width="0.5"/>
<rect x="428.75" y="101.39" width="5.60" height="15.21" fill="#9e2c43" stroke="#8c2338" stroke-width="0.5"/>
<rect x="437.00" y="93.98" width="5.60" height="22.62" fill="#9e2c43" stroke="#8c2338" stroke-width="0.5"/>
<rect x="445.25" y="99.41" width="5.60" height="17.19" fill="#9e2c43" stroke="#8c2338" stroke-width="0.5"/>
<rect x="453.50" y="109.42" width="5.60" height="7.18" fill="#9e2c43" stroke="#8c2338" stroke-width="0.5"/>
<rect x="461.75" y="111.95" width="5.60" height="4.65" fill="#9e2c43" stroke="#8c2338" stroke-width="0.5"/>
<rect x="486.50" y="114.48" width="5.60" height="2.12" fill="#9e2c43" stroke="#8c2338" stroke-width="0.5"/>
<rect x="494.75" y="114.48" width="5.60" height="2.12" fill="#9e2c43" stroke="#8c2338" stroke-width="0.5"/>
<text x="402.75" y="143.60" font-size="10.0" text-anchor="start" fill="#231f20" textLength="91.00" lengthAdjust="spacingAndGlyphs" stroke-width="0.25">Rolling velocity (μm/s)</text>
<text x="365.20" y="124.60" font-size="8.9" text-anchor="start" fill="#231f20" textLength="92.40" lengthAdjust="spacingAndGlyphs" transform="rotate(-90 365.20 124.60)" stroke-width="0.25">Relative frequency (%)</text>
<text x="414.50" y="49.50" font-size="7.0" text-anchor="start" fill="#231f20" textLength="56.00" lengthAdjust="spacingAndGlyphs" stroke-width="0.15">Median 109 μm/s</text>
<text x="408.00" y="59.00" font-size="7.0" text-anchor="start" fill="#231f20" textLength="68.50" lengthAdjust="spacingAndGlyphs" stroke-width="0.15">95% CI: 88 - 123 μm/s</text>
<line x1="386.0" y1="181.0" x2="386.0" y2="259.4" stroke="#454545" stroke-width="1.5"/>
<line x1="385.25" y1="258.7" x2="510.5" y2="258.7" stroke="#454545" stroke-width="1.5"/>
<line x1="383.0" y1="184.25" x2="386.0" y2="184.25" stroke="#2e2e2e" stroke-width="1.05"/>
<line x1="383.0" y1="209.25" x2="386.0" y2="209.25" stroke="#2e2e2e" stroke-width="1.05"/>
<line x1="383.0" y1="234.0" x2="386.0" y2="234.0" stroke="#2e2e2e" stroke-width="1.05"/>
<line x1="383.0" y1="258.7" x2="386.0" y2="258.7" stroke="#2e2e2e" stroke-width="1.05"/>
<line x1="390.6" y1="258.7" x2="390.6" y2="261.9" stroke="#454545" stroke-width="1.2"/>
<line x1="407.1" y1="258.7" x2="407.1" y2="261.9" stroke="#454545" stroke-width="1.2"/>
<line x1="423.6" y1="258.7" x2="423.6" y2="261.9" stroke="#454545" stroke-width="1.2"/>
<line x1="440.1" y1="258.7" x2="440.1" y2="261.9" stroke="#454545" stroke-width="1.2"/>
<line x1="456.6" y1="258.7" x2="456.6" y2="261.9" stroke="#454545" stroke-width="1.2"/>
<line x1="473.1" y1="258.7" x2="473.1" y2="261.9" stroke="#454545" stroke-width="1.2"/>
<line x1="489.6" y1="258.7" x2="489.6" y2="261.9" stroke="#454545" stroke-width="1.2"/>
<line x1="506.1" y1="258.7" x2="506.1" y2="261.9" stroke="#454545" stroke-width="1.2"/>
<text x="371.40" y="186.85" font-size="7.8" text-anchor="start" fill="#231f20" textLength="8.80" lengthAdjust="spacingAndGlyphs" stroke-width="0.15">60</text>
<text x="371.40" y="211.85" font-size="7.8" text-anchor="start" fill="#231f20" textLength="8.80" lengthAdjust="spacingAndGlyphs" stroke-width="0.15">40</text>
<text x="371.40" y="236.60" font-size="7.8" text-anchor="start" fill="#231f20" textLength="8.80" lengthAdjust="spacingAndGlyphs" stroke-width="0.15">20</text>
<text x="375.80" y="261.30" font-size="7.8" text-anchor="start" fill="#231f20" textLength="4.40" lengthAdjust="spacingAndGlyphs" stroke-width="0.15">0</text>
<text x="388.50" y="271.70" font-size="7.8" text-anchor="start" fill="#231f20" textLength="4.20" lengthAdjust="spacingAndGlyphs" stroke-width="0.15">0</text>
<text x="402.90" y="271.70" font-size="7.8" text-anchor="start" fill="#231f20" textLength="8.40" lengthAdjust="spacingAndGlyphs" stroke-width="0.15">40</text>
<text x="419.40" y="271.70" font-size="7.8" text-anchor="start" fill="#231f20" textLength="8.40" lengthAdjust="spacingAndGlyphs" stroke-width="0.15">80</text>
<text x="433.80" y="271.70" font-size="7.8" text-anchor="start" fill="#231f20" textLength="12.60" lengthAdjust="spacingAndGlyphs" stroke-width="0.15">120</text>
<text x="450.30" y="271.70" font-size="7.8" text-anchor="start" fill="#231f20" textLength="12.60" lengthAdjust="spacingAndGlyphs" stroke-width="0.15">160</text>
<text x="466.80" y="271.70" font-size="7.8" text-anchor="start" fill="#231f20" textLength="12.60" lengthAdjust="spacingAndGlyphs" stroke-width="0.15">200</text>
<text x="483.30" y="271.70" font-size="7.8" text-anchor="start" fill="#231f20" textLength="12.60" lengthAdjust="spacingAndGlyphs" stroke-width="0.15">240</text>
<text x="499.80" y="271.70" font-size="7.8" text-anchor="start" fill="#231f20" textLength="12.60" lengthAdjust="spacingAndGlyphs" stroke-width="0.15">280</text>
<rect x="387.80" y="238.58" width="5.60" height="20.12" fill="#9e2c43" stroke="#8c2338" stroke-width="0.5"/>
<rect x="396.05" y="189.56" width="5.60" height="69.14" fill="#9e2c43" stroke="#8c2338" stroke-width="0.5"/>
<rect x="404.30" y="239.82" width="5.60" height="18.88" fill="#9e2c43" stroke="#8c2338" stroke-width="0.5"/>
<rect x="412.55" y="246.64" width="5.60" height="12.06" fill="#9e2c43" stroke="#8c2338" stroke-width="0.5"/>
<rect x="420.80" y="257.81" width="5.60" height="0.89" fill="#9e2c43" stroke="#8c2338" stroke-width="0.5"/>
<text x="402.75" y="285.70" font-size="10.0" text-anchor="start" fill="#231f20" textLength="91.00" lengthAdjust="spacingAndGlyphs" stroke-width="0.25">Rolling velocity (μm/s)</text>
<text x="365.20" y="265.50" font-size="8.9" text-anchor="start" fill="#231f20" textLength="90.90" lengthAdjust="spacingAndGlyphs" transform="rotate(-90 365.20 265.50)" stroke-width="0.25">Relative frequency (%)</text>
<text x="432.00" y="191.60" font-size="7.0" text-anchor="start" fill="#231f20" textLength="52.50" lengthAdjust="spacingAndGlyphs" stroke-width="0.15">Median 23 μm/s</text>
<text x="425.50" y="201.60" font-size="7.0" text-anchor="start" fill="#231f20" textLength="65.00" lengthAdjust="spacingAndGlyphs" stroke-width="0.15">95% CI: 21 - 27 μm/s</text>
<rect x="0" y="0" width="520" height="1" fill="#4a4a4a"/>
<rect x="1" y="1" width="518" height="1" fill="#969696"/>
<rect x="0" y="1" width="1" height="295" fill="#050505"/>
<rect x="519" y="1" width="1" height="295" fill="#050505"/>
<rect x="0" y="295" width="520" height="1" fill="#050505"/>
</svg>
</body></html>
